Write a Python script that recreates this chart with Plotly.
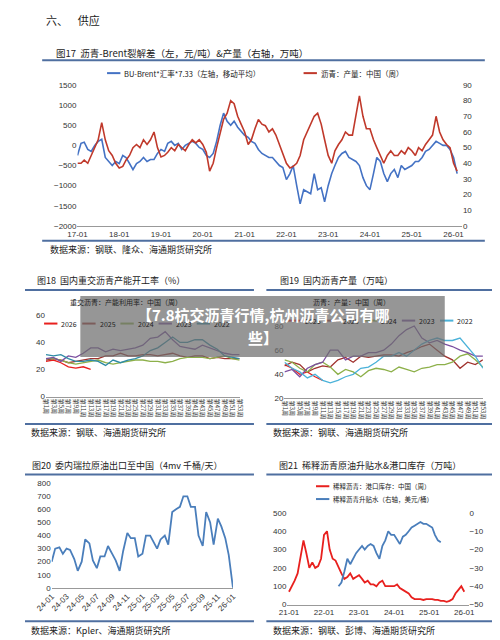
import plotly.graph_objects as go
import pandas as pd

# ---------- data ----------
f17_blue = [-250,50,80,-100,-150,0,100,150,-300,-400,-500,-400,
            -450,-250,-300,-450,-600,-450,-400,-300,-400,-350,-350,-200,
            -100,-150,50,100,0,50,-100,0,50,100,50,-50,
            -100,-250,-300,-200,100,500,800,600,500,600,450,350,
            250,200,100,50,-100,-200,-250,-300,-300,-400,-500,-550,
            -850,-700,-500,-1000,-1450,-1100,-1150,-1200,-700,-1100,-1050,-1400,
            -1000,-700,-500,-300,-200,-150,-300,-350,-400,-500,-800,-1000,
            -1100,-700,-300,-400,-700,-900,-700,-600,-800,-500,-600,-550,
            -500,-400,-400,-300,-150,-100,0,100,50,0,0,-100,
            -300,-700]
f17_red = [40,40,42,40,45,50,55,66,55,48,45,40,
           37,38,42,45,50,52,50,55,52,55,60,50,
           44,45,47,50,48,52,50,48,52,55,53,55,
           52,47,35,40,50,60,68,72,80,78,70,65,
           60,52,55,62,68,65,64,60,62,58,52,45,
           40,37,38,40,45,55,60,66,70,72,65,55,
           45,40,48,52,55,60,58,58,72,83,70,62,
           62,55,50,45,40,45,48,45,45,48,46,50,
           48,45,50,48,52,55,58,70,60,55,52,50,
           40,35]
weeks = [f"第{i}周" for i in range(1, 54, 2)]
f18 = {
    "2026": [26,27,25,22,21,22,20],
    "2025": [27,28,27,25,26,27,28,28,30,30,32,30,30,31,31,30,31,32,30,29,30,30,28,29,28,28,28],
    "2024": [28,28,27,25,24,25,26,27,25,24,25,26,27,27,26,26,25,26,28,29,29,29,28,29,30,28,27],
    "2023": [28,29,26,30,29,32,36,36,33,35,34,35,36,38,43,44,48,42,37,36,35,38,36,34,32,31,31],
    "2022": [31,30,31,28,26,26,27,26,23,27,25,27,28,30,34,36,40,44,40,40,42,42,38,35,30,29,28],
}
f19 = {
    "2026": [48,45,40,42,38,35],
    "2025": [47,50,48,42,45,47,46,52,54,50,55,54,55,56,56,55,58,60,63,65,60,55,52,45,50,48,52],
    "2024": [52,50,45,42,48,50,46,40,44,42,38,43,45,44,42,46,44,42,45,46,48,48,50,55,57,52,46],
    "2023": [42,44,38,45,48,50,60,60,52,55,55,58,58,60,65,72,77,80,70,66,68,65,63,60,58,55,55],
    "2022": [50,45,42,37,40,35,33,35,38,40,45,46,50,55,55,58,55,60,65,68,70,68,68,70,62,55,45],
}
f20 = [200,300,310,260,300,290,220,130,200,370,340,210,150,240,240,320,260,210,130,280,
       420,380,380,240,260,400,400,350,300,370,400,330,580,600,620,700,700,620,620,400,
       320,580,500,330,530,470,380,250,0,0]
f21_red = [70,100,130,170,250,350,280,200,230,200,210,250,
           380,400,300,250,240,200,170,140,150,170,140,150,
           160,140,120,130,110,110,100,120,130,100,100,100,
           100,110,90,80,70,60,40,30,30,30,25,30,
           30,30,25,25,20,20,15,20,30,60,80,100,70]
f21_blue = [-40,-38,-32,-25,-28,-25,-22,-20,-18,-20,-18,-17,-18,-22,-25,-18,-15,-10,-12,-12,
            -15,-17,-13,-12,-10,-8,-7,-6,-5,-6,-6,-7,-8,-12,-15,-16]

F = "Noto Sans CJK SC"
def dx(a, b): return [a/500, b/500]
def dy(t, b): return [1-b/640, 1-t/640]

fig = go.Figure()
d17 = pd.date_range("2017-01-01", periods=len(f17_blue), freq="MS")
fig.add_trace(go.Scatter(x=d17, y=f17_blue, mode="lines",
                         line=dict(color="#4472c4", width=1.6), xaxis="x", yaxis="y"))
fig.add_trace(go.Scatter(x=d17, y=f17_red, mode="lines",
                         line=dict(color="#c0392b", width=1.6), xaxis="x", yaxis="y2"))
cols = {"2026": "#e8201e", "2025": "#a0322e", "2024": "#8db04a", "2023": "#7b4fa0", "2022": "#2e8ba6"}
cols19 = dict(cols); cols19["2022"] = "#4bb2d9"
for k, v in f18.items():
    fig.add_trace(go.Scatter(x=weeks[:len(v)], y=v, mode="lines", line=dict(color=cols[k], width=1.3),
                             xaxis="x3", yaxis="y3"))
for k, v in f19.items():
    fig.add_trace(go.Scatter(x=weeks[:len(v)], y=v, mode="lines", line=dict(color=cols19[k], width=1.3),
                             xaxis="x4", yaxis="y4"))
d20 = pd.date_range("2024-01-01", periods=len(f20), freq="SMS")
fig.add_trace(go.Scatter(x=d20, y=f20, mode="lines", line=dict(color="#4a7ebb", width=1.8),
                         xaxis="x5", yaxis="y5"))
d21r = pd.date_range("2021-01-01", periods=len(f21_red), freq="MS")
d21b = pd.date_range("2022-06-01", periods=len(f21_blue), freq="MS")
fig.add_trace(go.Scatter(x=d21r, y=f21_red, mode="lines", line=dict(color="#e8201e", width=1.8),
                         xaxis="x6", yaxis="y6"))
fig.add_trace(go.Scatter(x=d21b, y=f21_blue, mode="lines", line=dict(color="#4a7ebb", width=1.8),
                         xaxis="x6", yaxis="y7"))

tk = dict(size=8, color="#333", family="Liberation Sans")
ax = dict(showgrid=False, zeroline=False, tickfont=tk, ticks="", showline=False)
fig.update_layout(
    width=500, height=640, margin=dict(l=0, r=0, t=0, b=0),
    paper_bgcolor="white", plot_bgcolor="white", font=dict(family=F),
    showlegend=False,
    xaxis=dict(ax, domain=dx(55, 458), anchor="y", type="date", range=["2017-01-01", "2026-03-15"],
               dtick="M12", tick0="2017-01-01", tickformat="%y-%m", showline=True, linecolor="#999"),
    yaxis=dict(ax, domain=dy(74, 217), range=[-2000, 1500], dtick=500),
    yaxis2=dict(ax, overlaying="y", side="right", range=[0, 90], dtick=10, anchor="x"),
    xaxis3=dict(ax, domain=dx(22, 225), anchor="y3", type="category", tickangle=90,
                tickfont=dict(size=6, color="#333", family=F), showline=True, linecolor="#999"),
    yaxis3=dict(ax, domain=dy(305, 390), range=[0, 62], dtick=20, anchor="x3"),
    xaxis4=dict(ax, domain=dx(272, 480), anchor="y4", type="category", tickangle=90,
                tickfont=dict(size=6, color="#333", family=F), showline=True, linecolor="#999"),
    yaxis4=dict(ax, domain=dy(316, 392), range=[20, 82], dtick=20, anchor="x4"),
    xaxis5=dict(ax, domain=dx(28, 218), anchor="y5", type="date", range=["2024-01-01", "2026-01-01"],
                dtick="M2", tick0="2024-01-01", tickformat="%y-%m", tickangle=-45, showline=True, linecolor="#999"),
    yaxis5=dict(ax, domain=dy(478, 584), range=[0, 800], dtick=100, anchor="x5"),
    xaxis6=dict(ax, domain=dx(275, 465), anchor="y6", type="date", range=["2020-12-15", "2026-02-15"],
                dtick="M12", tick0="2021-01-01", tickformat="%y-%m", showline=True, linecolor="#999"),
    yaxis6=dict(ax, domain=dy(508, 601), range=[0, 500], dtick=100, anchor="x6"),
    yaxis7=dict(ax, overlaying="y6", side="right", range=[-50, 0], dtick=10, anchor="x6"),
)

shapes, ann = [], []
def line(x0, x1, py, w=2):
    shapes.append(dict(type="line", xref="paper", yref="paper", x0=x0/500, x1=x1/500,
                       y0=1-py/640, y1=1-py/640, line=dict(color="#4f6fa0", width=w)))
def text(px, py, s, size=9.5, color="#222", xa="left", bold=False):
    ann.append(dict(xref="paper", yref="paper", x=px/500, y=1-py/640, text=f"<b>{s}</b>" if bold else s,
                    showarrow=False, xanchor=xa, yanchor="middle", font=dict(size=size, color=color, family=F)))
def leg(px, py, color, s, size=8):
    shapes.append(dict(type="line", xref="paper", yref="paper", x0=px/500, x1=(px+14)/500,
                       y0=1-py/640, y1=1-py/640, line=dict(color=color, width=2)))
    text(px+16, py, s, size=size)

text(20, 8, "六、    供应", size=11)
text(30, 42, "图17  沥青-Brent裂解差（左，元/吨）&产量（右轴，万吨）", size=9.5)
line(18, 482, 49); line(18, 482, 232)
leg(86, 62, "#4472c4", "BU-Brent*汇率*7.33（左轴，移动平均）", 7.5)
leg(292, 62, "#c0392b", "沥青：产量：中国（周）", 7.5)
text(24, 241, "数据来源：钢联、隆众、海通期货研究所", size=9)

text(10, 272, "图18  国内重交沥青产能开工率（%）", size=9)
text(265, 272, "图19  国内沥青产量（万吨）", size=9)
line(0, 240, 282); line(253, 500, 282)
text(45, 294, "重交沥青：产能利用率：中国（周）", size=7)
text(300, 294, "沥青：产量：中国（周）", size=7)
for i, k in enumerate(["2026", "2025", "2024", "2023", "2022"]):
    leg(20 + i*40, 316, cols[k], k, 7)
    leg(275 + i*40, 313, cols19[k], k, 7)
line(0, 240, 418); line(253, 500, 418)
text(4, 427, "数据来源：钢联、海通期货研究所", size=9)
text(258, 427, "数据来源：钢联、海通期货研究所", size=9)

text(5, 460, "图20  委内瑞拉原油出口至中国（4mv 千桶/天）", size=9)
text(264, 460, "图21  稀释沥青原油升贴水&港口库存（万吨）", size=9)
line(0, 240, 469); line(253, 500, 469)
leg(305, 481, "#e8201e", "稀释沥青：港口库存：中国（周）", 6.5)
leg(305, 494, "#4a7ebb", "稀释沥青升贴水（右轴，美元/桶）", 6.5)
line(0, 240, 618); line(253, 500, 618)
text(4, 627, "数据来源：Kpler、海通期货研究所", size=9)
text(258, 627, "数据来源：钢联、彭博、海通期货研究所", size=9)

shapes.append(dict(type="rect", xref="paper", yref="paper", x0=58/500, x1=440/500,
                   y0=1-350/640, y1=1-288/640, fillcolor="rgba(110,110,110,0.72)", line=dict(width=0)))
text(249, 307, "【7.8杭交沥青行情,杭州沥青公司有哪", size=15, color="white", xa="center", bold=True)
text(249, 330, "些】", size=15, color="white", xa="center", bold=True)

fig.update_layout(shapes=shapes, annotations=ann)
fig.write_html("out.html")
